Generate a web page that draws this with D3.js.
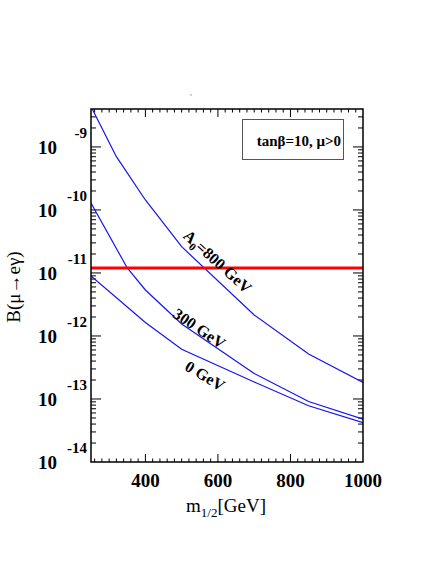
<!DOCTYPE html>
<html>
<head>
<meta charset="utf-8">
<script src="https://cdn.jsdelivr.net/npm/d3@7"></script>
<style>
  body { margin: 0; background: #fff; }
  svg { display: block; }
  text { font-family: "Liberation Serif", "Times New Roman", serif; fill: #000; }
</style>
</head>
<body>
<div id="chart"></div>
<script>
// m_1/2 [GeV] and B(mu -> e gamma), one pair of arrays per A0
const massA800 = [250, 320, 400, 500, 700, 850, 1000]
const brA800 = [4.38e-9, 7.0e-10, 1.44e-10, 2.61e-11, 2.15e-12, 5.18e-13, 1.83e-13]
const massA300 = [250, 350, 400, 500, 700, 850, 1000]
const brA300 = [1.29e-10, 1.2e-11, 5.37e-12, 1.55e-12, 2.54e-13, 9.12e-14, 4.77e-14]
const massA0 = [250, 400, 500, 700, 850, 1000]
const brA0 = [8.95e-12, 1.64e-12, 6.15e-13, 1.86e-13, 7.8e-14, 4.21e-14]

const megBound = 1.2e-11
const xTickValues = [400, 600, 800, 1000]
const yTickExponents = [-9, -10, -11, -12, -13, -14]
const legendText = 'tanβ=10, μ>0'

const curves = [
  { name: 'A800', mass: massA800, br: brA800 },
  { name: 'A300', mass: massA300, br: brA300 },
  { name: 'A0', mass: massA0, br: brA0 }
]

// curve labels, anchored in data space (m, B) and rotated along the line
const labels = [
  { parts: [['A', 0], ['0', 1], ['=800 GeV', 0]], m: 598, b: 1.5e-11, angle: 42 },
  { parts: [['300 GeV', 0]], m: 548, b: 1.3e-12, angle: 34 },
  { parts: [['0 GeV', 0]], m: 564, b: 2.3e-13, angle: 31 }
]

const width = 436
const height = 564
const frame = { left: 91, right: 363, top: 109, bottom: 462 }

const svg = d3.select('#chart').append('svg')
  .attr('width', width)
  .attr('height', height)

const x = d3.scaleLinear([250, 1000], [frame.left, frame.right])
const y = d3.scaleLog([1e-14, 4e-9], [frame.bottom, frame.top])

svg.append('clipPath').attr('id', 'plot-clip')
  .append('rect')
  .attr('x', frame.left).attr('y', frame.top)
  .attr('width', frame.right - frame.left)
  .attr('height', frame.bottom - frame.top)

// ticks, all pointing inward, on every side
const xMinor = d3.range(260, 1000, 20).filter(v => v % 200 !== 0)
const xMajor = [400, 600, 800]
const yMinor = []
for (let e = -14; e <= -9; e++) {
  for (let k = 2; k <= 9; k++) {
    const v = k * Math.pow(10, e)
    if (v < 4e-9) yMinor.push(v)
  }
}
const yMajor = yTickExponents.map(e => Math.pow(10, e)).filter(v => v > 1e-14)

const ticks = svg.append('g').attr('stroke', '#000').attr('stroke-width', 1)

const xTick = (vals, len) => {
  vals.forEach(v => {
    ticks.append('line').attr('x1', x(v)).attr('x2', x(v)).attr('y1', frame.bottom).attr('y2', frame.bottom - len)
    ticks.append('line').attr('x1', x(v)).attr('x2', x(v)).attr('y1', frame.top).attr('y2', frame.top + len)
  })
}
const yTick = (vals, len) => {
  vals.forEach(v => {
    ticks.append('line').attr('y1', y(v)).attr('y2', y(v)).attr('x1', frame.left).attr('x2', frame.left + len)
    ticks.append('line').attr('y1', y(v)).attr('y2', y(v)).attr('x1', frame.right).attr('x2', frame.right - len)
  })
}
xTick(xMinor, 3.5)
xTick(xMajor, 8)
yTick(yMinor, 5)
yTick(yMajor, 10)

// x tick labels
svg.append('g').selectAll('text')
  .data(xTickValues)
  .join('text')
  .attr('x', d => x(d))
  .attr('y', 487)
  .attr('text-anchor', 'middle')
  .attr('font-size', 19)
  .attr('font-weight', 'bold')
  .text(d => d)

// y tick labels: 10 with the exponent up and to the right
const yLab = svg.append('g').selectAll('g')
  .data(yTickExponents)
  .join('g')
yLab.append('text')
  .attr('x', 57)
  .attr('y', d => y(Math.pow(10, d)) + 7)
  .attr('text-anchor', 'end')
  .attr('font-size', 19)
  .attr('font-weight', 'bold')
  .text('10')
yLab.append('text')
  .attr('x', 87)
  .attr('y', d => y(Math.pow(10, d)) - 9)
  .attr('text-anchor', 'end')
  .attr('font-size', 15)
  .attr('font-weight', 'bold')
  .text(d => '-' + Math.abs(d))

// axis titles
const xTitle = svg.append('text')
  .attr('x', 226)
  .attr('y', 512)
  .attr('text-anchor', 'middle')
  .attr('font-size', 19)
xTitle.append('tspan').text('m')
xTitle.append('tspan').attr('font-size', 13).attr('dy', 5).text('1/2')
xTitle.append('tspan').attr('dy', -5).text('[GeV]')

svg.append('text')
  .attr('transform', 'translate(20,287) rotate(-90)')
  .attr('text-anchor', 'middle')
  .attr('font-size', 19)
  .text('B(μ→eγ)')

// curves
const line = d3.line().x(d => x(d[0])).y(d => y(d[1]))
const plot = svg.append('g').attr('clip-path', 'url(#plot-clip)')

plot.selectAll('path.curve')
  .data(curves)
  .join('path')
  .attr('class', 'curve')
  .attr('fill', 'none')
  .attr('stroke', '#1414f0')
  .attr('stroke-width', 1.2)
  .attr('d', c => line(c.mass.map((m, i) => [m, c.br[i]])))

// experimental bound
plot.append('line')
  .attr('x1', frame.left).attr('x2', frame.right)
  .attr('y1', y(megBound)).attr('y2', y(megBound))
  .attr('stroke', '#ff0000')
  .attr('stroke-width', 3)

// curve labels
labels.forEach(l => {
  const t = svg.append('text')
    .attr('transform', `translate(${x(l.m)},${y(l.b)}) rotate(${l.angle})`)
    .attr('text-anchor', 'middle')
    .attr('dy', 5)
    .attr('font-size', 16)
    .attr('font-weight', 'bold')
  l.parts.forEach(([s, sub], i) => {
    const prevSub = i > 0 && l.parts[i - 1][1]
    const span = t.append('tspan').text(s)
    if (sub) span.attr('font-size', 11).attr('dy', 4)
    else if (prevSub) span.attr('dy', -4)
  })
})

// legend box
svg.append('rect')
  .attr('x', 242.5).attr('y', 119.5)
  .attr('width', 101).attr('height', 40)
  .attr('fill', 'none')
  .attr('stroke', '#555')
  .attr('stroke-width', 1)
svg.append('text')
  .attr('x', 341)
  .attr('y', 146)
  .attr('text-anchor', 'end')
  .attr('font-size', 15)
  .attr('font-weight', 'bold')
  .text(legendText)

// stray dot above the frame (empty title)
svg.append('rect')
  .attr('x', 190.5).attr('y', 94.5)
  .attr('width', 1).attr('height', 1)
  .attr('fill', '#444')

// frame
svg.append('rect')
  .attr('x', frame.left).attr('y', frame.top)
  .attr('width', frame.right - frame.left)
  .attr('height', frame.bottom - frame.top)
  .attr('fill', 'none')
  .attr('stroke', '#000')
  .attr('stroke-width', 1.5)
</script>
</body>
</html>
